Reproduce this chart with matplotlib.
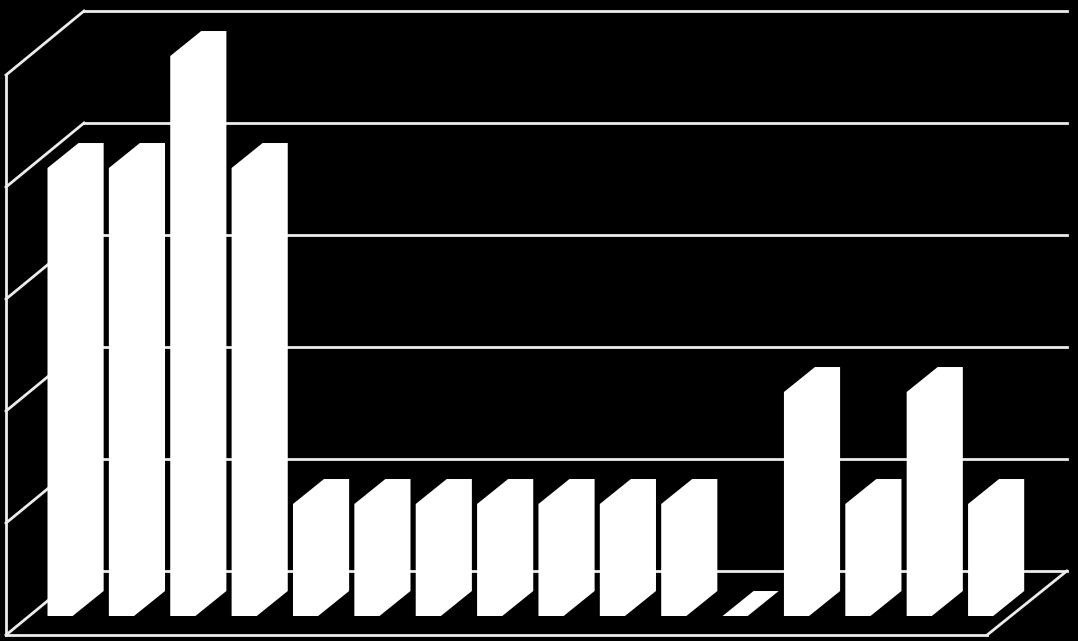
import matplotlib
matplotlib.use('Agg')
import matplotlib.pyplot as plt
from matplotlib.patches import Polygon

# bar values, one per category
values = [4, 4, 5, 4, 1, 1, 1, 1, 1, 1, 1, 0, 2, 1, 2, 1]
grid_levels = [0, 1, 2, 3, 4, 5]

# oblique projection, in data units (x: one category slot, y: one value unit)
bar_w = 0.41
bar_dx = 0.505
bar_dy = 0.223
wall_front_x = -0.676
wall_back_x = 0.595
floor_right_back_x = 16.61
floor_right_front_x = 15.31
floor_front_y = -0.17
floor_back_y = 0.402

fig = plt.figure(figsize=(10.78, 6.41), dpi=100, facecolor='black')
ax = fig.add_axes([0, 0, 1, 1])
ax.set_facecolor('black')
ax.set_xlim(-47.5 / 61.37, (1078 - 47.5) / 61.37)
ax.set_ylim(-25 / 112, 616 / 112)
ax.axis('off')

line_style = dict(color='#ececec', lw=2.0, solid_capstyle='projecting', zorder=1)

# gridlines on the back wall and their returns on the side wall
for level in grid_levels:
    y_back = level + floor_back_y
    y_front = level + floor_front_y
    ax.plot([wall_back_x, floor_right_back_x], [y_back, y_back], **line_style)
    ax.plot([wall_front_x, wall_back_x], [y_front, y_back], **line_style)

# front edge of the side wall and the floor outline
ax.plot([wall_front_x, wall_front_x], [floor_front_y, max(grid_levels) + floor_front_y], **line_style)
ax.plot([wall_front_x, floor_right_front_x], [floor_front_y, floor_front_y], **line_style)
ax.plot([floor_right_front_x, floor_right_back_x], [floor_front_y, floor_back_y], **line_style)

# each bar is one white outline: front face, top and side
for i, v in enumerate(values):
    outline = [
        (i, 0), (i + bar_w, 0), (i + bar_w + bar_dx, bar_dy),
        (i + bar_w + bar_dx, v + bar_dy), (i + bar_dx, v + bar_dy), (i, v),
    ]
    ax.add_patch(Polygon(outline, closed=True, facecolor='white', edgecolor='none', zorder=2))

fig.savefig('out.png', dpi=100, facecolor='black')
